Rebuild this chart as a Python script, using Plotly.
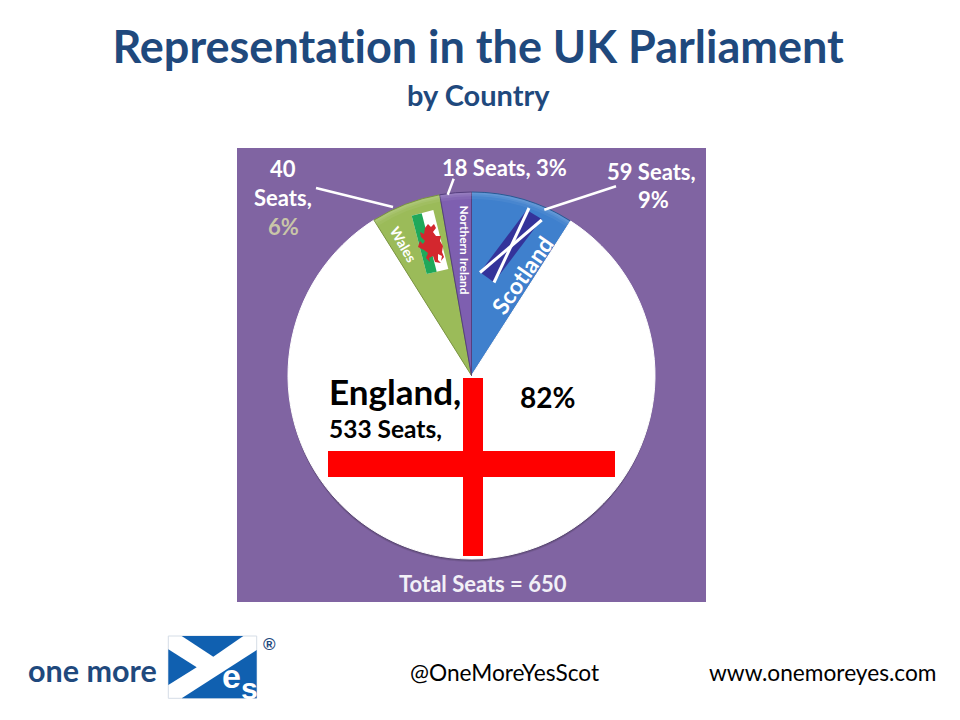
import plotly.graph_objects as go

# Seats per country, clockwise from twelve o'clock
countries = ["Scotland", "England", "Wales", "Northern Ireland"]
seats = [59, 533, 40, 18]
seat_labels = ["59 Seats,", "533 Seats,", "40 Seats,", "18 Seats, 3%"]
share_labels = ["9%", "82%", "6%", "3%"]
total_label = "Total Seats = 650"

W, H = 960, 720
NAVY = "#1F497D"
PURPLE = "#8064A2"
SANS = "Lato, Carlito, Calibri, sans-serif"

base_colors = ["#3F80CD", "#FFFFFF", "#9BBB59", "#7E5FB0"]
edge_colors = ["#2A5A94", "#FFFFFF", "#7A9440", "#56407F"]


def px(x):
    return x / W


def py(y):
    return 1 - y / H


def domain(cx, cy, r):
    return dict(x=[px(cx - r), px(cx + r)], y=[py(cy + r), py(cy - r)])


def poly(points, fill, line=None, width=0):
    path = "M" + " L".join(f"{px(x):.5f},{py(y):.5f}" for x, y in points) + " Z"
    return dict(type="path", xref="paper", yref="paper", path=path, layer="above",
                fillcolor=fill, line=dict(color=line or fill, width=width))


def seg(x0, y0, x1, y1, color="white", width=2.5):
    return dict(type="line", xref="paper", yref="paper", layer="above",
                x0=px(x0), y0=py(y0), x1=px(x1), y1=py(y1),
                line=dict(color=color, width=width))


def rect(x0, y0, x1, y1, fill, layer="above", line=None):
    return dict(type="rect", xref="paper", yref="paper", layer=layer,
                x0=px(x0), y0=py(y0), x1=px(x1), y1=py(y1), fillcolor=fill,
                line=dict(color=line, width=1) if line else dict(width=0))


def label(text, x, y, size, color="white", bold=True, anchor="center", angle=0, family=SANS):
    return dict(text=f"<b>{text}</b>" if bold else text, x=px(x), y=py(y),
                xref="paper", yref="paper", xanchor=anchor, yanchor="middle",
                showarrow=False, textangle=angle,
                font=dict(family=family, size=size, color=color))


def pie_layer(colors, cx, cy, r, edges=None, hole=0):
    line = dict(color=edges, width=1) if edges else dict(width=0)
    return go.Pie(labels=countries, values=seats, sort=False, direction="clockwise",
                  rotation=0, textinfo="none", hoverinfo="label+value", showlegend=False,
                  hole=hole, marker=dict(colors=colors, line=line), domain=domain(cx, cy, r))


CX, CY, R = 471.5, 375.5, 183.5
clear = "rgba(0,0,0,0)"


def glow(alpha):
    # lightens the three coloured slices and leaves England alone
    tint = f"rgba(255,255,255,{alpha})"
    return [tint, clear, tint, tint]


fig = go.Figure([
    # soft shadow under the England slice
    pie_layer([clear, "rgba(60,50,80,0.18)", clear, clear], CX, CY + 3.0, R),
    pie_layer([clear, "rgba(60,50,80,0.28)", clear, clear], CX, CY + 2.0, R),
    pie_layer([clear, "rgba(60,50,80,0.35)", clear, clear], CX, CY + 1.0, R),
    # slice faces, then thin rings that brighten towards the rim
    pie_layer(base_colors, CX, CY, R, edge_colors),
    pie_layer(glow(0.05), CX, CY, R - 0.5, hole=0.965),
    pie_layer(glow(0.07), CX, CY, R - 0.5, hole=0.98),
    pie_layer(glow(0.08), CX, CY, R - 0.5, hole=0.99),
])

shapes = [rect(237, 148, 706, 602, PURPLE, layer="below")]

# England's cross of St George
shapes += [rect(463, 378, 483, 556, "#FF0000"), rect(328, 451, 615, 477, "#FF0000")]

# Welsh flag on its slice
shapes += [
    poly([(411.7, 215.7), (433.3, 210), (448.3, 269), (426.7, 274)], "white"),
    poly([(411.7, 215.7), (421.7, 213.2), (436.7, 271.7), (426.7, 274)], "#1FA85A"),
]
dragon = [(425, 228), (428, 224), (431, 227), (434, 224), (436, 228), (433, 232), (436, 236),
          (441, 236), (440, 241), (443, 246), (442, 252), (444, 257), (441, 261), (442, 256),
          (438, 254), (438, 260), (441, 263), (435, 262), (433, 256), (429, 258), (430, 262),
          (426, 258), (428, 253), (424, 250), (418, 247), (420, 241), (423, 244), (425, 241),
          (421, 237), (420, 232), (424, 234)]
shapes.append(poly(dragon, "#D3272E"))

# Saltire on the Scotland slice
shapes += [
    poly([(480, 272.3), (526.7, 210), (541.7, 219), (494, 282.3)], "#34339A"),
    seg(529, 208, 494, 282.5, width=3),
    seg(480, 272.5, 541.7, 220, width=3),
]

# Leader lines from the labels to their slices
shapes += [seg(316, 188, 393, 207), seg(453.7, 178.7, 447.7, 194.7), seg(616, 186.3, 544.3, 209.7)]

# Logo flag
LOGO_BLUE = "#1060B0"
shapes += [
    rect(168.3, 636, 256.7, 698.3, "white", line="#D5DDE6"),
    poly([(181.7, 636), (243.3, 636), (213.3, 656.7)], LOGO_BLUE),
    poly([(168.3, 649.3), (196.7, 667.3), (168.3, 685)], LOGO_BLUE),
    poly([(256.7, 650), (256.7, 698.3), (181.7, 698.3)], LOGO_BLUE),
]

annotations = [
    label("Representation in the UK Parliament", 478, 45.5, 45, NAVY),
    label("by Country", 478, 95, 29, NAVY),
    label("40", 283, 168, 22),
    label("Seats,", 283, 197, 22),
    label(share_labels[2], 283, 226, 22, "#C9C6A8"),
    label(seat_labels[3], 505, 167, 22),
    label(seat_labels[0], 651, 171, 22),
    label(share_labels[0], 653, 199, 22),
    label(countries[2], 404, 244, 14, angle=60),
    label(countries[3], 464.5, 250, 12, angle=90),
    label(countries[0], 522, 275, 23, angle=-55),
    label("England,", 327, 391, 35, "black", anchor="left"),
    label(seat_labels[1], 327, 428, 24.5, "black", anchor="left"),
    label(share_labels[1], 547, 396.5, 28, "black"),
    label(total_label, 483, 583, 22, "#F2F0F7"),
    label("one more", 26, 670, 30.5, NAVY, anchor="left"),
    label("e", 231.5, 676, 34, "white", family="Liberation Sans"),
    label("s", 249.5, 688, 30, "white", family="Liberation Sans"),
    label("®", 269, 644, 17, NAVY, family="Liberation Sans"),
    label("@OneMoreYesScot", 504, 672.5, 22.7, "black", bold=False),
    label("www.onemoreyes.com", 823, 672.5, 22.7, "black", bold=False),
]

fig.update_layout(width=W, height=H, margin=dict(l=0, r=0, t=0, b=0),
                  paper_bgcolor="white", plot_bgcolor="white",
                  shapes=shapes, annotations=annotations)

# Keep "ti" as two separate letters in the heading
no_ligatures = "document.querySelectorAll('text').forEach(t => t.style.fontVariantLigatures = 'none');"
fig.write_html("out.html", post_script=no_ligatures)
